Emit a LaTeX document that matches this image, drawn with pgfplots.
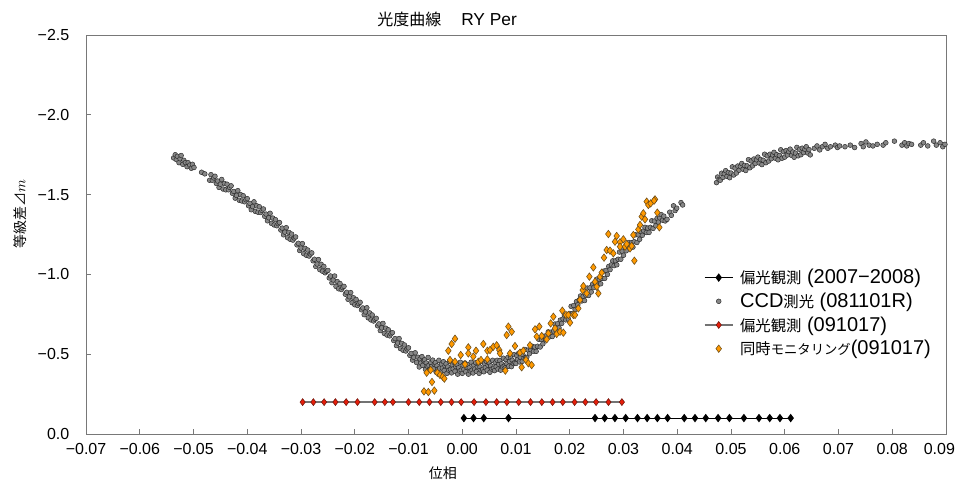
\documentclass[border=0pt]{standalone}
\usepackage{fontspec}
\setmainfont{Liberation Sans}
\newfontfamily\cjk{Noto Sans CJK JP}
\usepackage{pgfplots}
\pgfplotsset{compat=1.18}
\definecolor{ccdfill}{RGB}{135,135,135}
\definecolor{ccddraw}{RGB}{40,40,40}
\definecolor{orfill}{RGB}{255,153,0}
\definecolor{ordraw}{RGB}{105,75,25}
\definecolor{redfill}{RGB}{230,30,10}
\definecolor{reddraw}{RGB}{110,20,10}
\definecolor{axgray}{RGB}{120,120,120}
\newcommand{\lat}{\fontsize{15}{17}\selectfont}
\newcommand{\jp}{\cjk\fontsize{11.5}{13}\selectfont}
\pgfplotsset{
  lineleg/.style={legend image code/.code={\draw[mark repeat=2,mark phase=2,##1] plot coordinates {(0pt,0pt)(10.5pt,0pt)(21pt,0pt)};}},
  markleg/.style={legend image code/.code={\draw[##1] plot coordinates {(10.5pt,0pt)};}},
}
\begin{document}
\begin{tikzpicture}
\begin{axis}[
  scale only axis, width=645pt, height=299.25pt,
  xmin=-0.07, xmax=0.09, ymin=-2.5, ymax=0, y dir=reverse,
  scaled ticks=false,
  xtick={-0.07,-0.06,-0.05,-0.04,-0.03,-0.02,-0.01,0,0.01,0.02,0.03,0.04,0.05,0.06,0.07,0.08,0.09},
  xticklabels={−0.07,−0.06,−0.05,−0.04,−0.03,−0.02,−0.01,0.00,0.01,0.02,0.03,0.04,0.05,0.06,0.07,0.08,{\hspace*{-10pt}0.09}},
  ytick={-2.5,-2,-1.5,-1,-0.5,0},
  yticklabels={−2.5,−2.0,−1.5,−1.0,−0.5,0.0},
  tick align=inside, xtick pos=lower, ytick pos=left, major tick length=3.75pt,
  axis line style={draw=axgray, line width=0.75pt},
  tick style={draw=axgray, line width=0.75pt},
  ticklabel style={font=\fontsize{12}{14}\selectfont},
  xticklabel style={yshift=-3.5pt},
  yticklabel style={xshift=-9pt},
  clip=false,
  legend style={at={(0.7186,0.416)}, anchor=north west, draw=none, fill=none,
    inner sep=0pt, outer sep=0pt,
    nodes={inner sep=1pt}, row sep=3.4pt,
    /tikz/every odd column/.append style={column sep=4pt}},
  legend cell align=left,
]
% polarimetry 2007-2008
\addplot[black, line width=0.75pt, mark=diamond*, mark size=2.6pt, mark options={fill=black, draw=black}, lineleg] coordinates {
(0.0003,-0.1)(0.0021,-0.1)(0.0040,-0.1)(0.0086,-0.1)(0.0247,-0.1)(0.0265,-0.1)(0.0284,-0.1)(0.0304,-0.1)
(0.0326,-0.1)(0.0344,-0.1)(0.0363,-0.1)(0.0382,-0.1)(0.0413,-0.1)(0.0433,-0.1)(0.0453,-0.1)(0.0476,-0.1)
(0.0497,-0.1)(0.0524,-0.1)(0.0552,-0.1)(0.0572,-0.1)(0.0591,-0.1)(0.0611,-0.1)};
\addlegendentry{{\jp 偏光観測}{\lat{} (2007−2008)}}
% CCD photometry
\addplot[only marks, mark=*, mark size=1.8pt, mark options={fill=ccdfill, draw=ccddraw, line width=0.35pt}, markleg] table {
x y
-0.0537 -1.73
-0.0534 -1.75
-0.0532 -1.72
-0.0530 -1.74
-0.0527 -1.70
-0.0525 -1.725
-0.0523 -1.745
-0.0520 -1.69
-0.0518 -1.715
-0.0515 -1.70
-0.0512 -1.675
-0.0510 -1.70
-0.0507 -1.685
-0.0504 -1.665
-0.0502 -1.69
-0.0499 -1.67
-0.0485 -1.64
-0.0479 -1.63
-0.04700 -1.590
-0.04675 -1.625
-0.04650 -1.590
-0.04625 -1.605
-0.04600 -1.615
-0.04575 -1.570
-0.04550 -1.585
-0.04525 -1.545
-0.04500 -1.565
-0.04475 -1.595
-0.04450 -1.535
-0.04425 -1.570
-0.04400 -1.530
-0.04375 -1.565
-0.04350 -1.530
-0.04325 -1.545
-0.04300 -1.555
-0.04275 -1.508
-0.04250 -1.520
-0.04225 -1.478
-0.04200 -1.495
-0.04175 -1.525
-0.04150 -1.465
-0.04125 -1.500
-0.04100 -1.460
-0.04075 -1.493
-0.04050 -1.455
-0.04025 -1.468
-0.04000 -1.475
-0.03975 -1.430
-0.03950 -1.445
-0.03925 -1.405
-0.03900 -1.425
-0.03875 -1.455
-0.03850 -1.395
-0.03825 -1.430
-0.03800 -1.390
-0.03775 -1.424
-0.03750 -1.388
-0.03725 -1.401
-0.03700 -1.410
-0.03675 -1.364
-0.03650 -1.378
-0.03625 -1.336
-0.03600 -1.355
-0.03575 -1.383
-0.03550 -1.320
-0.03525 -1.353
-0.03500 -1.310
-0.03475 -1.343
-0.03450 -1.305
-0.03425 -1.318
-0.03400 -1.325
-0.03375 -1.278
-0.03350 -1.290
-0.03325 -1.248
-0.03300 -1.265
-0.03275 -1.293
-0.03250 -1.230
-0.03225 -1.263
-0.03200 -1.220
-0.03175 -1.253
-0.03150 -1.215
-0.03125 -1.228
-0.03100 -1.235
-0.03075 -1.185
-0.03050 -1.195
-0.03025 -1.150
-0.03000 -1.165
-0.02975 -1.193
-0.02950 -1.130
-0.02925 -1.163
-0.02900 -1.120
-0.02875 -1.153
-0.02850 -1.115
-0.02825 -1.128
-0.02800 -1.135
-0.02775 -1.085
-0.02750 -1.095
-0.02725 -1.050
-0.02700 -1.065
-0.02675 -1.093
-0.02650 -1.030
-0.02625 -1.063
-0.02600 -1.020
-0.02575 -1.050
-0.02550 -1.010
-0.02525 -1.020
-0.02500 -1.025
-0.02475 -0.978
-0.02450 -0.990
-0.02425 -0.948
-0.02400 -0.965
-0.02375 -0.990
-0.02350 -0.925
-0.02325 -0.955
-0.02300 -0.910
-0.02275 -0.943
-0.02250 -0.905
-0.02225 -0.918
-0.02200 -0.925
-0.02175 -0.876
-0.02150 -0.888
-0.02125 -0.844
-0.02100 -0.860
-0.02075 -0.886
-0.02050 -0.823
-0.02025 -0.854
-0.02000 -0.810
-0.01975 -0.843
-0.01950 -0.805
-0.01925 -0.818
-0.01900 -0.825
-0.01875 -0.778
-0.01850 -0.790
-0.01825 -0.748
-0.01800 -0.765
-0.01775 -0.791
-0.01750 -0.728
-0.01725 -0.759
-0.01700 -0.715
-0.01675 -0.746
-0.01650 -0.708
-0.01625 -0.719
-0.01600 -0.725
-0.01575 -0.678
-0.01550 -0.690
-0.01525 -0.648
-0.01500 -0.665
-0.01475 -0.693
-0.01450 -0.630
-0.01425 -0.663
-0.01400 -0.620
-0.01375 -0.653
-0.01350 -0.615
-0.01325 -0.628
-0.01300 -0.635
-0.01275 -0.586
-0.01250 -0.598
-0.01225 -0.554
-0.01200 -0.570
-0.01175 -0.598
-0.01150 -0.535
-0.01125 -0.568
-0.01100 -0.525
-0.01075 -0.558
-0.01050 -0.520
-0.01025 -0.533
-0.01000 -0.540
-0.00975 -0.493
-0.00950 -0.505
-0.00925 -0.463
-0.00900 -0.480
-0.00875 -0.509
-0.00850 -0.448
-0.00825 -0.481
-0.00800 -0.420
-0.00785 -0.470
-0.00770 -0.445
-0.00750 -0.485
-0.00735 -0.430
-0.00720 -0.460
-0.00700 -0.465
-0.00685 -0.405
-0.00670 -0.445
-0.00650 -0.425
-0.00635 -0.480
-0.00620 -0.430
-0.00600 -0.398
-0.00585 -0.448
-0.00570 -0.423
-0.00550 -0.463
-0.00535 -0.408
-0.00520 -0.438
-0.00500 -0.447
-0.00485 -0.387
-0.00470 -0.427
-0.00450 -0.407
-0.00435 -0.462
-0.00420 -0.412
-0.00400 -0.388
-0.00385 -0.438
-0.00370 -0.413
-0.00350 -0.453
-0.00335 -0.398
-0.00320 -0.428
-0.00300 -0.440
-0.00285 -0.380
-0.00270 -0.420
-0.00250 -0.400
-0.00235 -0.455
-0.00220 -0.405
-0.00200 -0.383
-0.00185 -0.433
-0.00170 -0.408
-0.00150 -0.448
-0.00135 -0.393
-0.00120 -0.423
-0.00100 -0.435
-0.00085 -0.375
-0.00070 -0.415
-0.00050 -0.395
-0.00035 -0.450
-0.00020 -0.400
0.00000 -0.380
0.00015 -0.430
0.00030 -0.405
0.00050 -0.445
0.00065 -0.390
0.00080 -0.420
0.00100 -0.435
0.00115 -0.375
0.00130 -0.415
0.00150 -0.395
0.00165 -0.450
0.00180 -0.400
0.00200 -0.382
0.00215 -0.432
0.00230 -0.407
0.00250 -0.447
0.00265 -0.392
0.00280 -0.422
0.00300 -0.440
0.00315 -0.380
0.00330 -0.420
0.00350 -0.400
0.00365 -0.455
0.00380 -0.405
0.00400 -0.390
0.00415 -0.440
0.00430 -0.415
0.00450 -0.455
0.00465 -0.400
0.00480 -0.430
0.00500 -0.447
0.00515 -0.387
0.00530 -0.427
0.00550 -0.407
0.00565 -0.462
0.00580 -0.412
0.00600 -0.397
0.00615 -0.447
0.00630 -0.422
0.00650 -0.462
0.00665 -0.407
0.00680 -0.437
0.00700 -0.460
0.00715 -0.400
0.00730 -0.440
0.00750 -0.420
0.00765 -0.475
0.00780 -0.425
0.00800 -0.415
0.00815 -0.465
0.00830 -0.440
0.00850 -0.480
0.00865 -0.425
0.00880 -0.455
0.00900 -0.482
0.00915 -0.422
0.00930 -0.462
0.00950 -0.442
0.00965 -0.497
0.00980 -0.447
0.01000 -0.442
0.01015 -0.492
0.01030 -0.467
0.01050 -0.507
0.01065 -0.452
0.01080 -0.482
0.01100 -0.515
0.01115 -0.455
0.01130 -0.495
0.01150 -0.475
0.01165 -0.530
0.01180 -0.480
0.01200 -0.480
0.01225 -0.526
0.01250 -0.503
0.01275 -0.529
0.01300 -0.550
0.01325 -0.518
0.01350 -0.545
0.01375 -0.518
0.01400 -0.550
0.01425 -0.593
0.01450 -0.545
0.01475 -0.593
0.01500 -0.565
0.01525 -0.613
0.01550 -0.590
0.01575 -0.618
0.01600 -0.640
0.01625 -0.609
0.01650 -0.638
0.01675 -0.611
0.01700 -0.645
0.01725 -0.689
0.01750 -0.643
0.01775 -0.691
0.01800 -0.665
0.01825 -0.714
0.01850 -0.693
0.01875 -0.721
0.01900 -0.745
0.01925 -0.715
0.01950 -0.745
0.01975 -0.720
0.02000 -0.755
0.02025 -0.800
0.02050 -0.755
0.02075 -0.805
0.02100 -0.780
0.02125 -0.830
0.02150 -0.810
0.02175 -0.840
0.02200 -0.865
0.02225 -0.834
0.02250 -0.863
0.02275 -0.836
0.02300 -0.870
0.02325 -0.914
0.02350 -0.868
0.02375 -0.916
0.02400 -0.890
0.02425 -0.939
0.02450 -0.918
0.02475 -0.946
0.02500 -0.970
0.02525 -0.939
0.02550 -0.968
0.02575 -0.941
0.02600 -0.975
0.02625 -1.020
0.02650 -0.975
0.02675 -1.025
0.02700 -1.000
0.02725 -1.050
0.02750 -1.030
0.02775 -1.060
0.02800 -1.085
0.02825 -1.055
0.02850 -1.085
0.02875 -1.060
0.02900 -1.095
0.02925 -1.140
0.02950 -1.095
0.02975 -1.145
0.03000 -1.120
0.03025 -1.169
0.03050 -1.148
0.03075 -1.176
0.03100 -1.200
0.03125 -1.169
0.03150 -1.198
0.03175 -1.171
0.03200 -1.205
0.03225 -1.248
0.03250 -1.200
0.03275 -1.248
0.03300 -1.220
0.03325 -1.268
0.03350 -1.245
0.03375 -1.273
0.03400 -1.295
0.03425 -1.263
0.03450 -1.290
0.03475 -1.263
0.03500 -1.295
0.03525 -1.336
0.03550 -1.288
0.03575 -1.334
0.03600 -1.305
0.03625 -1.351
0.03650 -1.328
0.03675 -1.354
0.03700 -1.375
0.03725 -1.340
0.03750 -1.365
0.03775 -1.335
0.0381 -1.345
0.0386 -1.390
0.0389 -1.370
0.0393 -1.430
0.0396 -1.400
0.0399 -1.415
0.0407 -1.450
0.0410 -1.435
0.0473 -1.575
0.0475 -1.610
0.0478 -1.595
0.04800 -1.590
0.04825 -1.634
0.04850 -1.608
0.04875 -1.631
0.04900 -1.650
0.04925 -1.614
0.04950 -1.638
0.04975 -1.606
0.05000 -1.635
0.05025 -1.674
0.05050 -1.623
0.05075 -1.666
0.05100 -1.635
0.05125 -1.679
0.05150 -1.653
0.05175 -1.676
0.05200 -1.695
0.05225 -1.659
0.05250 -1.683
0.05275 -1.651
0.05300 -1.680
0.05325 -1.719
0.05350 -1.668
0.05375 -1.711
0.05400 -1.680
0.05425 -1.723
0.05450 -1.695
0.05475 -1.718
0.05500 -1.735
0.05525 -1.698
0.05550 -1.720
0.05575 -1.688
0.05600 -1.715
0.05625 -1.753
0.05650 -1.700
0.05675 -1.743
0.05700 -1.710
0.05725 -1.753
0.05750 -1.725
0.05775 -1.748
0.05800 -1.765
0.05825 -1.728
0.05850 -1.750
0.05875 -1.718
0.05900 -1.745
0.05925 -1.781
0.05950 -1.728
0.05975 -1.769
0.06000 -1.735
0.06025 -1.776
0.06050 -1.748
0.06075 -1.769
0.06100 -1.785
0.06125 -1.746
0.06150 -1.767
0.06175 -1.734
0.06200 -1.760
0.06225 -1.796
0.06250 -1.743
0.06275 -1.784
0.06300 -1.750
0.06325 -1.791
0.06350 -1.763
0.06375 -1.784
0.06400 -1.800
0.06425 -1.761
0.06450 -1.782
0.06475 -1.749
0.0655 -1.790
0.0660 -1.805
0.0665 -1.780
0.0670 -1.800
0.0675 -1.815
0.0680 -1.790
0.0685 -1.800
0.0694 -1.810
0.0698 -1.795
0.0702 -1.805
0.0712 -1.800
0.0722 -1.810
0.0730 -1.795
0.0742 -1.820
0.0746 -1.800
0.0751 -1.830
0.0757 -1.810
0.0764 -1.805
0.0772 -1.815
0.0783 -1.810
0.0788 -1.825
0.0804 -1.835
0.0818 -1.810
0.0823 -1.825
0.0827 -1.805
0.0831 -1.820
0.0836 -1.815
0.0853 -1.810
0.0858 -1.825
0.0866 -1.805
0.0877 -1.835
0.0882 -1.810
0.0889 -1.825
0.0894 -1.800
0.0898 -1.815
};
\addlegendentry{{\lat CCD}{\jp 測光}{\lat{} (081101R)}}
% polarimetry 091017
\addplot[color=black!55, line width=1.1pt, mark=diamond*, mark size=2.6pt, mark options={fill=redfill, draw=reddraw, line width=0.4pt}, lineleg] coordinates {
(-0.0297,-0.2)(-0.0277,-0.2)(-0.0257,-0.2)(-0.0236,-0.2)(-0.0216,-0.2)(-0.0195,-0.2)(-0.0163,-0.2)(-0.0144,-0.2)
(-0.0129,-0.2)(-0.0100,-0.2)(-0.0080,-0.2)(-0.0061,-0.2)(-0.0040,-0.2)(-0.0020,-0.2)(-0.0002,-0.2)(0.0022,-0.2)
(0.0044,-0.2)(0.0064,-0.2)(0.0083,-0.2)(0.0105,-0.2)(0.0127,-0.2)(0.0148,-0.2)(0.0168,-0.2)(0.0187,-0.2)
(0.0209,-0.2)(0.0229,-0.2)(0.0249,-0.2)(0.0272,-0.2)(0.0297,-0.2)};
\addlegendentry{{\jp 偏光観測}{\lat{} (091017)}}
% simultaneous monitoring
\addplot[only marks, mark=diamond*, mark size=2.8pt, mark options={fill=orfill, draw=ordraw, line width=0.4pt}, markleg] table {
x y
-0.00712 -0.267
-0.00631 -0.263
-0.00519 -0.272
-0.00563 -0.326
-0.00662 -0.384
-0.00588 -0.401
-0.00464 -0.384
-0.00414 -0.370
-0.00364 -0.359
-0.00333 -0.347
-0.00259 -0.522
-0.00197 -0.564
-0.00135 -0.597
-0.00228 -0.464
-0.00135 -0.453
-0.00029 -0.495
0.00051 -0.437
0.00113 -0.543
0.00113 -0.505
0.00206 -0.485
0.00256 -0.522
0.00299 -0.453
0.00349 -0.464
0.00392 -0.564
0.00467 -0.522
0.00467 -0.468
0.00516 -0.526
0.00578 -0.547
0.00640 -0.556
0.00690 -0.526
0.00702 -0.505
0.00802 -0.397
0.00826 -0.620
0.00858 -0.673
0.00920 -0.641
0.00981 -0.551
0.00888 -0.505
0.01074 -0.510
0.01105 -0.418
0.01136 -0.522
0.01186 -0.464
0.01230 -0.443
0.01260 -0.556
0.01291 -0.432
0.01354 -0.656
0.01385 -0.610
0.01434 -0.673
0.01478 -0.614
0.01571 -0.593
0.01602 -0.631
0.01645 -0.693
0.01695 -0.735
0.01726 -0.662
0.01757 -0.627
0.01819 -0.641
0.01881 -0.635
0.01862 -0.773
0.01930 -0.746
0.01974 -0.746
0.02005 -0.698
0.02067 -0.746
0.02098 -0.746
0.02160 -0.787
0.02191 -0.840
0.02240 -0.902
0.02253 -0.927
0.02315 -0.881
0.02365 -0.986
0.02439 -1.044
0.02470 -0.954
0.02501 -0.923
0.02532 -0.881
0.02563 -0.986
0.02594 -1.011
0.02637 -1.105
0.02718 -1.253
0.02687 -1.153
0.02749 -1.149
0.02811 -1.132
0.02842 -1.205
0.02873 -1.241
0.02935 -1.201
0.02935 -1.174
0.02997 -1.220
0.03028 -1.174
0.03059 -1.190
0.03121 -1.163
0.03152 -1.178
0.03202 -1.086
0.03183 -1.247
0.03276 -1.282
0.03307 -1.310
0.03338 -1.362
0.03369 -1.383
0.03400 -1.345
0.03431 -1.456
0.03462 -1.435
0.03505 -1.445
0.03586 -1.470
0.03629 -1.387
0.03667 -1.295
0.03567 -1.462
};
\addlegendentry{{\jp 同時}{\cjk\fontsize{10}{12}\selectfont モニタリング}{\lat (091017)}}
% texts
\node at (rel axis cs:0.4198,1.0401) {{\cjk\fontsize{12}{14}\selectfont 光度曲線}\hspace{1.5em}{\fontsize{13}{15}\selectfont RY Per}};
\node[rotate=90] at (rel axis cs:-0.0767,0.5514) {{\cjk\fontsize{10.5}{12}\selectfont 等級差⊿}{\fontsize{11}{13}\selectfont$m$}};
\node at (rel axis cs:0.4151,-0.0977) {\cjk\fontsize{10.5}{12}\selectfont 位相};
\coordinate (bl) at (rel axis cs:-0.1,-0.11529);
\coordinate (tr) at (rel axis cs:1.01279,1.08772);
\end{axis}
\pgfresetboundingbox
\path[use as bounding box] (bl) rectangle (tr);
\end{tikzpicture}
\end{document}
